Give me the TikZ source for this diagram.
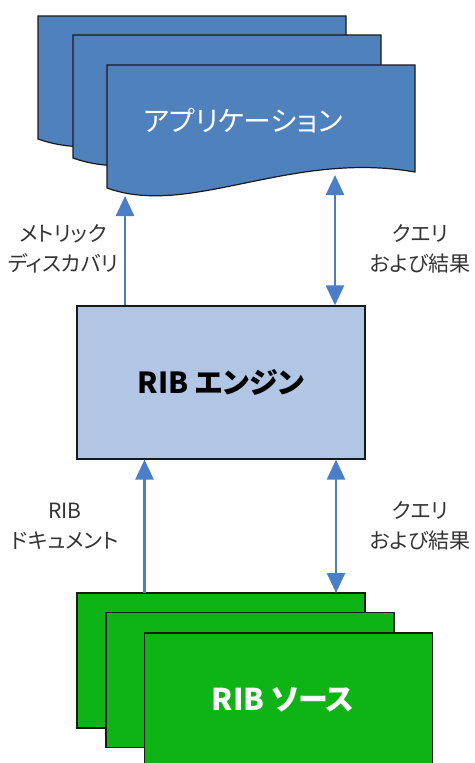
\documentclass[tikz,border=0pt]{standalone}
\usepackage{fontspec}
\setmainfont{Noto Sans CJK JP}[RawFeature=+palt]
\usetikzlibrary{arrows.meta}
\definecolor{docblue}{RGB}{79,129,189}
\definecolor{engblue}{RGB}{177,197,228}
\definecolor{srcgreen}{RGB}{14,180,22}
\definecolor{arrblue}{RGB}{74,126,199}
\definecolor{edge}{RGB}{25,25,25}
\newcommand\appdocshape[2]{%
  \begin{scope}[shift={(#1,#2)}]
    \draw[appdoc] (0,0) -- (308,0) -- (308,107)
      .. controls (183,85) and (83,153) .. (0,123) -- cycle;
  \end{scope}}
\begin{document}
\begin{tikzpicture}[x=1pt,y=-1pt,
  appdoc/.style={draw=edge, line width=1.2pt, fill=docblue},
  srcbox/.style={draw=edge, line width=1.2pt, fill=srcgreen, minimum width=288pt, minimum height=135pt, inner sep=0pt},
  enginebox/.style={draw=edge, line width=1.2pt, fill=engblue, minimum width=288pt, minimum height=153pt, inner sep=0pt, font=\fontsize{29}{32}\selectfont\bfseries},
  flow/.style={draw=arrblue, line width=2.5pt, -{Triangle[length=20pt,width=18pt]}},
  flowboth/.style={draw=arrblue, line width=2.5pt, {Triangle[length=20pt,width=18pt]}-{Triangle[length=20pt,width=18pt]}},
  lbl/.style={align=center, font=\fontsize{21}{30}\selectfont, text=black!80}]
\useasboundingbox (0,0) rectangle (474,763);
\clip (0,0) rectangle (474,763);
% application documents
\appdocshape{38}{16}
\appdocshape{73}{35}
\appdocshape{107}{65}
\node[text=white, font=\fontsize{28}{32}\selectfont] (app) at (243,121) {アプリケーション};
\coordinate (appL) at (125,196);
\coordinate (appR) at (335,175);
% engine
\node[enginebox] (engine) at (221,382.5) {RIB エンジン};
% sources
\node[srcbox] (src1) at (221,660.5) {};
\node[srcbox] (src2) at (250,680) {};
\node[srcbox] (src3) at (288.5,700.5) {};
\node[text=white, font=\fontsize{30}{32}\selectfont\bfseries] (srctext) at (283,700) {RIB ソース};
\coordinate (srcL) at (144.5,593);
\coordinate (srcR) at (336,593);
% connectors
\draw[flow] (engine.north -| appL) -- (appL);
\draw[flowboth] (engine.north -| appR) -- (appR);
\draw[flow] (srcL) -- (engine.south -| srcL);
\draw[flowboth] (srcR) -- (engine.south -| srcR);
% labels
\node[lbl] (l1) at (63,249) {メトリック\\ディスカバリ};
\node[lbl] (l2) at (420,249) {クエリ\\および結果};
\node[lbl] (l3) at (65,526) {RIB\\ドキュメント};
\node[lbl] (l4) at (420,526) {クエリ\\および結果};
\end{tikzpicture}
\end{document}
